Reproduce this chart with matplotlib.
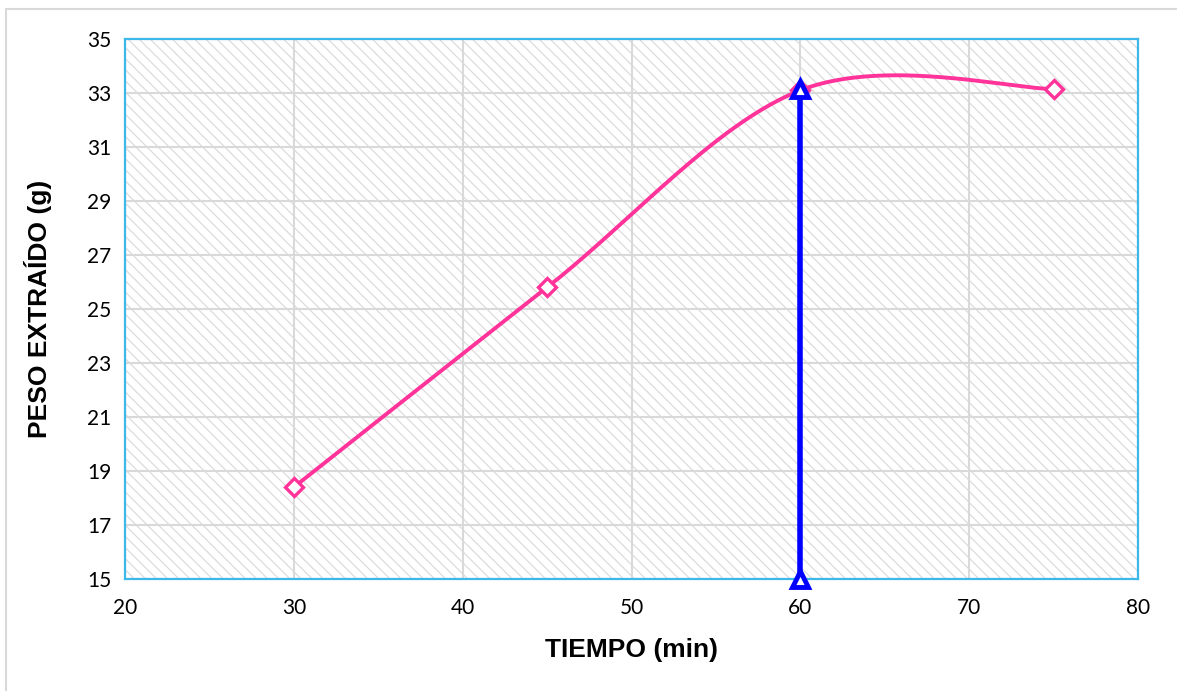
import numpy as np
import matplotlib
matplotlib.use("Agg")
import matplotlib.pyplot as plt
from matplotlib.patches import Rectangle

# Data
tiempo = [30, 45, 60, 75]
peso = [18.4, 25.8, 33.1, 33.15]
linea_x = [60, 60]
linea_y = [15, 33.15]

x_ticks = [20, 30, 40, 50, 60, 70, 80]
y_ticks = [15, 17, 19, 21, 23, 25, 27, 29, 31, 33, 35]

PINK = "#ff3399"
BLUE = "#0000ff"
SPINE = "#3cb8ea"
HATCH = "#dcdcdc"


def smooth(xs, ys, n=60):
    P = np.column_stack([xs, ys]).astype(float)
    out = []
    for i in range(len(P) - 1):
        p0 = P[i - 1] if i > 0 else P[i]
        p1 = P[i]
        p2 = P[i + 1]
        p3 = P[i + 2] if i + 2 < len(P) else P[i + 1]
        c1 = p1 + (p2 - p0) / 6.0
        c2 = p2 - (p3 - p1) / 6.0
        t = np.linspace(0, 1, n)[:, None]
        seg = ((1 - t) ** 3) * p1 + 3 * ((1 - t) ** 2) * t * c1 + 3 * (1 - t) * t ** 2 * c2 + t ** 3 * p2
        out.append(seg if i == 0 else seg[1:])
    out = np.vstack(out)
    return out[:, 0], out[:, 1]


plt.rcParams["hatch.color"] = HATCH
plt.rcParams["hatch.linewidth"] = 0.9

fig = plt.figure(figsize=(11.77, 6.91), dpi=100)
ax = fig.add_axes([125 / 1177, 1 - 579 / 691, (1138 - 125) / 1177, (579 - 39) / 691])

# outer chart border
fig.patches.append(Rectangle((6 / 1177, -0.2), 1.5, 0.2 + 1 - 9 / 691, transform=fig.transFigure,
                             fill=False, edgecolor="#d9d9d9", linewidth=1.5, zorder=0))

# hatched background
ax.add_patch(Rectangle((0, 0), 1, 1, transform=ax.transAxes, facecolor="white",
                       edgecolor=HATCH, linewidth=0, hatch="\\\\\\", zorder=0))

ax.set_xlim(20, 80)
ax.set_ylim(15, 35)
ax.set_xticks(x_ticks)
ax.set_yticks(y_ticks)
ax.grid(True, color="#d9d9d9", linewidth=1.5, zorder=1)
ax.set_axisbelow(True)

for s in ax.spines.values():
    s.set_color(SPINE)
    s.set_linewidth(1.6)

ax.tick_params(axis="x", length=0, labelsize=15, pad=14)
ax.tick_params(axis="y", length=0, labelsize=15, pad=10)
for lab in ax.get_xticklabels() + ax.get_yticklabels():
    lab.set_fontfamily("Lato")

sx, sy = smooth(tiempo, peso)
ax.plot(sx, sy, color=PINK, linewidth=2.8, zorder=3)
ax.plot(tiempo, peso, linestyle="none", marker="D", markersize=9, markerfacecolor="white",
        markeredgecolor=PINK, markeredgewidth=2.4, zorder=4)

ax.plot(linea_x, linea_y, color=BLUE, linewidth=4, marker="^", markersize=12,
        markerfacecolor="white", markeredgecolor=BLUE, markeredgewidth=3.5, zorder=5, clip_on=False)

ax.set_xlabel("TIEMPO (min)", fontsize=19, fontweight="bold", family="Liberation Sans", labelpad=14)
ax.set_ylabel("PESO EXTRAÍDO (g)", fontsize=19, fontweight="bold", family="Liberation Sans", labelpad=25)

fig.savefig("out.png", dpi=100)
